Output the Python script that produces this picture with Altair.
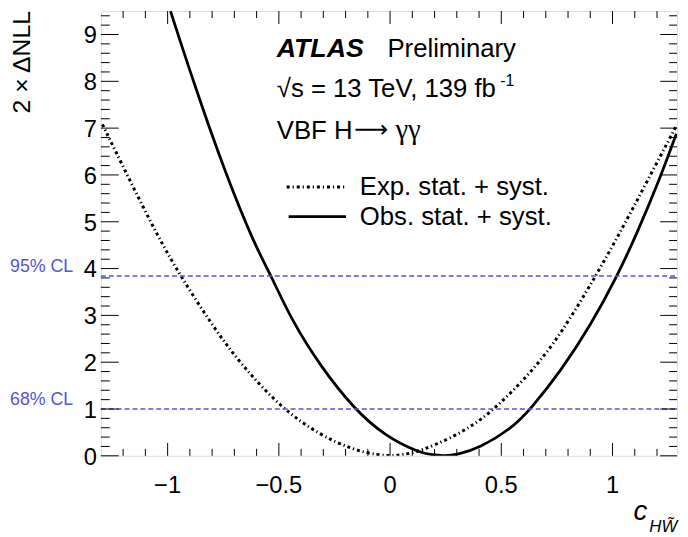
import altair as alt
import pandas as pd

# ---- data ----
obs_x = [-0.987, -0.885, -0.738, -0.608, -0.534, -0.443, -0.317, -0.162, -0.021, 0.126,
         0.19, 0.245, 0.30, 0.40, 0.548, 0.632, 0.769, 0.903, 1.021, 1.11, 1.213, 1.287]
obs_y = [9.5, 8.0, 6.0, 4.5, 3.84, 2.9, 1.94, 1.0, 0.42, 0.08,
         0.015, 0.0, 0.02, 0.16, 0.59, 1.0, 1.82, 2.8, 3.84, 4.75, 5.92, 6.88]

exp_x = [-1.293, -1.182, -1.049, -0.945, -0.797, -0.672, -0.487, -0.317, -0.169, -0.051,
         0.023, 0.097, 0.2, 0.348, 0.474, 0.644, 0.769, 0.925, 1.043, 1.154, 1.287]
exp_y = [7.08, 6.0, 4.73, 3.86, 2.77, 1.96, 1.01, 0.45, 0.13, 0.01,
         0.0, 0.05, 0.22, 0.56, 1.01, 1.83, 2.61, 3.84, 4.85, 5.85, 7.05]

cl_levels = [3.84, 1.0]
cl_labels = ["95% CL", "68% CL"]

x_major = [-1.0, -0.5, 0.0, 0.5, 1.0]
x_labels = ["\u22121", "\u22120.5", "0", "0.5", "1"]
x_minor = [-1.2, -1.1, -0.9, -0.8, -0.7, -0.6, -0.4, -0.3, -0.2, -0.1,
           0.1, 0.2, 0.3, 0.4, 0.6, 0.7, 0.8, 0.9, 1.1, 1.2]
y_major = [0, 1, 2, 3, 4, 5, 6, 7, 8, 9]
y_labels = ["0", "1", "2", "3", "4", "5", "6", "7", "8", "9"]
y_minor = [0.2, 0.4, 0.6, 0.8, 1.2, 1.4, 1.6, 1.8, 2.2, 2.4, 2.6, 2.8,
           3.2, 3.4, 3.6, 3.8, 4.2, 4.4, 4.6, 4.8, 5.2, 5.4, 5.6, 5.8,
           6.2, 6.4, 6.6, 6.8, 7.2, 7.4, 7.6, 7.8, 8.2, 8.4, 8.6, 8.8, 9.2, 9.4]

legend_labels = ["Exp. stat. + syst.", "Obs. stat. + syst."]

W, H = 583, 450
FONT = "Liberation Sans"
BLUE = "#5353e0"
DOTS = [3, 3, 1.2, 3]

xs = alt.Scale(domain=[-1.3, 1.29], nice=False, zero=False)
ys = alt.Scale(domain=[0, 9.5], nice=False, zero=False)

obs_df = pd.DataFrame({"x": obs_x, "y": obs_y})
exp_df = pd.DataFrame({"x": exp_x, "y": exp_y})

obs = alt.Chart(obs_df).mark_line(color="black", strokeWidth=2.8, interpolate="basis", clip=True).encode(
    x=alt.X("x:Q", scale=xs, axis=None),
    y=alt.Y("y:Q", scale=ys, axis=None),
)
exp = alt.Chart(exp_df).mark_line(color="black", strokeWidth=3, interpolate="basis",
                                  strokeDash=DOTS, clip=True).encode(
    x=alt.X("x:Q", scale=xs, axis=None),
    y=alt.Y("y:Q", scale=ys, axis=None),
)

cl_df = pd.DataFrame({"level": cl_levels, "label": cl_labels})
cl_rules = alt.Chart(cl_df).mark_rule(color=BLUE, strokeWidth=1.4, strokeDash=[5, 3]).encode(
    y=alt.Y("level:Q", scale=ys, axis=None),
    x=alt.value(0), x2=alt.value(W),
)
cl_text = alt.Chart(cl_df).mark_text(color=BLUE, font=FONT, fontSize=18, align="right",
                                     baseline="bottom", dy=0).encode(
    y=alt.Y("level:Q", scale=ys, axis=None),
    x=alt.value(-28),
    text="label:N",
)

# tick labels (drawn through the scales)
xlab = alt.Chart(pd.DataFrame({"v": x_major, "t": x_labels})).mark_text(
    font=FONT, fontSize=24, align="center", baseline="alphabetic", color="black").encode(
    x=alt.X("v:Q", scale=xs, axis=None), y=alt.value(H + 38), text="t:N")
ylab = alt.Chart(pd.DataFrame({"v": y_major, "t": y_labels})).mark_text(
    font=FONT, fontSize=24, align="right", baseline="middle", dy=2, color="black").encode(
    y=alt.Y("v:Q", scale=ys, axis=None), x=alt.value(-4), text="t:N")

def xticks(vals, y0, y1):
    return alt.Chart(pd.DataFrame({"v": vals})).mark_rule(color="black", strokeWidth=1).encode(
        x=alt.X("v:Q", scale=xs, axis=None), y=alt.value(y0), y2=alt.value(y1))

def yticks(vals, x0, x1):
    return alt.Chart(pd.DataFrame({"v": vals})).mark_rule(color="black", strokeWidth=1).encode(
        y=alt.Y("v:Q", scale=ys, axis=None), x=alt.value(x0), x2=alt.value(x1))

ticks = [
    xticks(x_major, H, H - 13), xticks(x_minor, H, H - 7),
    xticks(x_major, 0, 13), xticks(x_minor, 0, 7),
    yticks(y_major, 0, 18), yticks(y_minor, 0, 9),
    yticks(y_major, W, W - 17), yticks(y_minor, W, W - 8),
]

def txt(s, x, y, size=25, style="normal", weight="normal", align="left", baseline="alphabetic",
        angle=0, color="black", font=FONT):
    kw = dict(font=font, fontSize=size, fontStyle=style, fontWeight=weight, align=align,
              baseline=baseline, color=color)
    if angle:
        kw["angle"] = angle
    return alt.Chart(pd.DataFrame({"t": [s]})).mark_text(**kw).encode(
        x=alt.value(x), y=alt.value(y), text="t:N")

texts = [
    txt("ATLAS", 178, 46, size=27, style="italic", weight="bold"),
    txt("Preliminary", 290, 46, size=26),
    txt("\u221as = 13 TeV, 139 fb", 178, 87, size=26),
    txt("-1", 404, 76, size=16),
    txt("VBF H", 178, 129, size=26),
    txt("\u27f6", 256, 127, size=24, font="DejaVu Sans"),
    txt("\u03b3\u03b3", 298, 129, size=29, font="Liberation Serif"),
    txt(legend_labels[0], 262, 178, size=26, baseline="middle"),
    txt(legend_labels[1], 262, 208, size=26, baseline="middle"),
    txt("2 \u00d7 \u0394NLL", -80, 0, size=25, align="right", baseline="middle", angle=270),
    txt("c", 539, 515, size=28, style="italic"),
    txt("HW\u0303", 555, 527, size=17, style="italic"),
]

leg_exp = alt.Chart(pd.DataFrame({"a": [0]})).mark_rule(color="black", strokeWidth=3,
                                                        strokeDash=DOTS).encode(
    x=alt.value(188), x2=alt.value(247), y=alt.value(178))
leg_obs = alt.Chart(pd.DataFrame({"a": [0]})).mark_rule(color="black", strokeWidth=2.8).encode(
    x=alt.value(190), x2=alt.value(248), y=alt.value(208))

chart = alt.layer(obs, exp, cl_rules, cl_text, xlab, ylab, *ticks, leg_exp, leg_obs, *texts).properties(
    width=W, height=H,
    autosize=alt.AutoSizeParams(type="none"),
    padding={"left": 94, "top": 0, "right": 3, "bottom": 78},
).configure_view(stroke="black", strokeWidth=1.6).configure(background="white")

chart.save("out.html", embed_options={"renderer": "svg", "actions": False})
